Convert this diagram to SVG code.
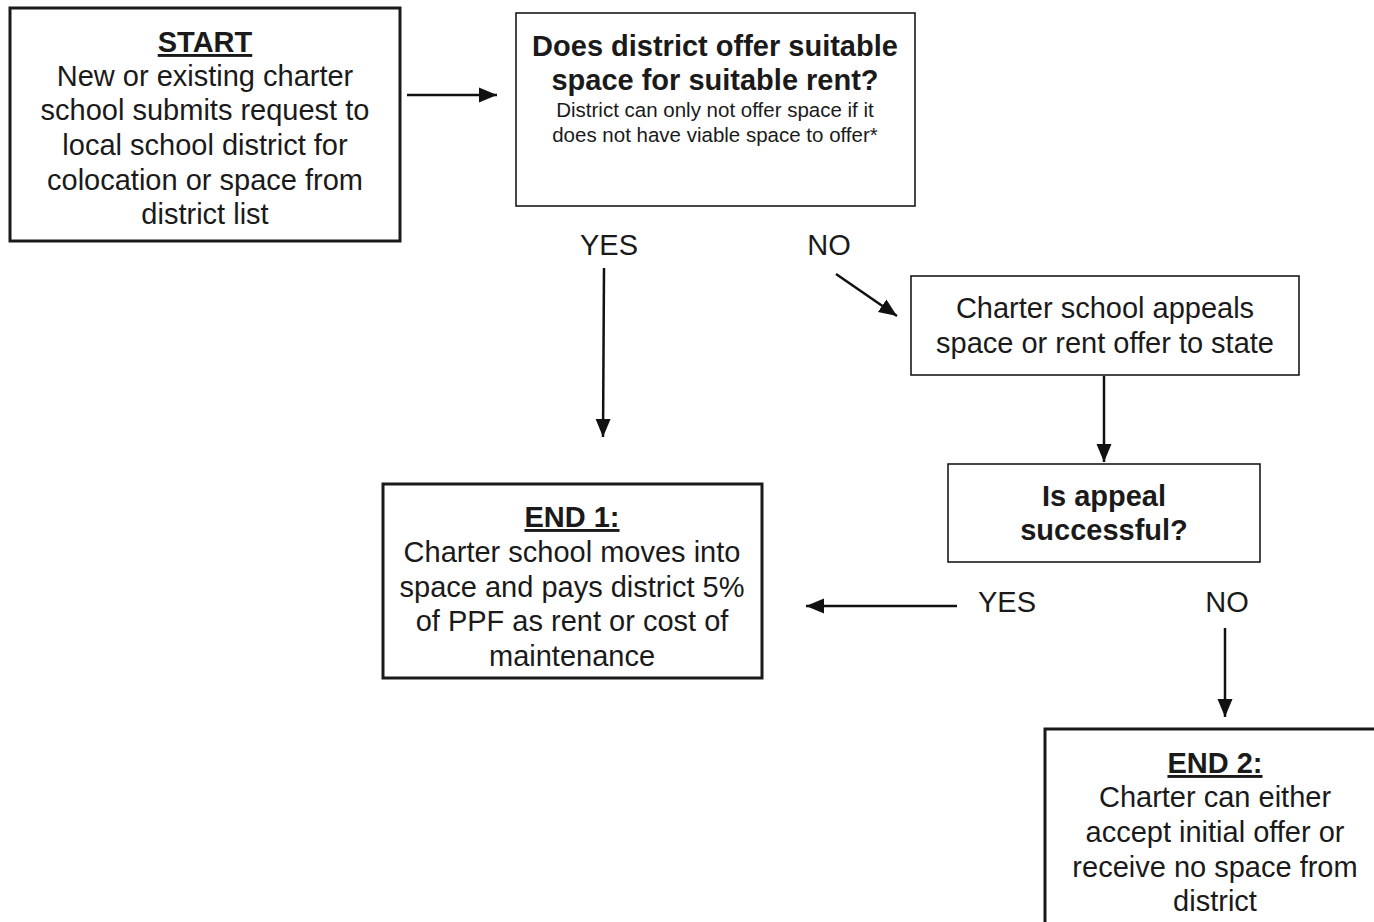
<svg xmlns="http://www.w3.org/2000/svg" width="1374" height="922" viewBox="0 0 1374 922">
<style>
.box{fill:#fff;stroke:#1a1a1a}
.thick{stroke-width:3}
.thin{stroke-width:1.6}
.t{font-family:"Liberation Sans",Arial,sans-serif;font-size:29px;fill:#1a1a1a;text-anchor:middle}
.b{font-weight:bold}
.u{text-decoration:underline}
.s{font-size:20.5px}
.conn{stroke:#111;stroke-width:2.5;fill:none;marker-end:url(#ah)}
</style>
<defs>
<marker id="ah" markerUnits="userSpaceOnUse" markerWidth="20" markerHeight="18" refX="18" refY="9" orient="auto">
<path d="M0,1.5 L18,9 L0,16.5 Z" fill="#111"/>
</marker>
</defs>
<rect width="1374" height="922" fill="#fff"/>
<g id="start">
<rect class="box thick" x="10" y="8" width="390" height="233"/>
<text class="t b u" x="205" y="52">START</text>
<text class="t" x="205" y="86">New or existing charter</text>
<text class="t" x="205" y="120">school submits request to</text>
<text class="t" x="205" y="155">local school district for</text>
<text class="t" x="205" y="190">colocation or space from</text>
<text class="t" x="205" y="224">district list</text>
</g>
<g id="decision1">
<rect class="box thin" x="516" y="13" width="399" height="193"/>
<text class="t b" x="715" y="56">Does district offer suitable</text>
<text class="t b" x="715" y="90">space for suitable rent?</text>
<text class="t s" x="715" y="117">District can only not offer space if it</text>
<text class="t s" x="715" y="142">does not have viable space to offer*</text>
</g>
<g id="appeal">
<rect class="box thin" x="911" y="276" width="388" height="99"/>
<text class="t" x="1105" y="318">Charter school appeals</text>
<text class="t" x="1105" y="353">space or rent offer to state</text>
</g>
<g id="decision2">
<rect class="box thin" x="948" y="464" width="312" height="98"/>
<text class="t b" x="1104" y="506">Is appeal</text>
<text class="t b" x="1104" y="540">successful?</text>
</g>
<g id="end1">
<rect class="box thick" x="383" y="484" width="379" height="194"/>
<text class="t b u" x="572" y="527">END 1:</text>
<text class="t" x="572" y="562">Charter school moves into</text>
<text class="t" x="572" y="597">space and pays district 5%</text>
<text class="t" x="572" y="631">of PPF as rent or cost of</text>
<text class="t" x="572" y="666">maintenance</text>
</g>
<g id="end2">
<rect class="box thick" x="1045" y="729" width="340" height="210"/>
<text class="t b u" x="1215" y="773">END 2:</text>
<text class="t" x="1215" y="807">Charter can either</text>
<text class="t" x="1215" y="842">accept initial offer or</text>
<text class="t" x="1215" y="877">receive no space from</text>
<text class="t" x="1215" y="911">district</text>
</g>
<g id="labels">
<text class="t" x="609" y="255">YES</text>
<text class="t" x="829" y="255">NO</text>
<text class="t" x="1007" y="612">YES</text>
<text class="t" x="1227" y="612">NO</text>
</g>
<g id="connectors">
<line class="conn" x1="407" y1="95" x2="497" y2="95"/>
<line class="conn" x1="604" y1="268" x2="603" y2="437"/>
<line class="conn" x1="836" y1="274" x2="897" y2="316"/>
<line class="conn" x1="1104" y1="376" x2="1104" y2="462"/>
<line class="conn" x1="957" y1="606" x2="806" y2="606"/>
<line class="conn" x1="1225" y1="628" x2="1225" y2="717"/>
</g>
</svg>
